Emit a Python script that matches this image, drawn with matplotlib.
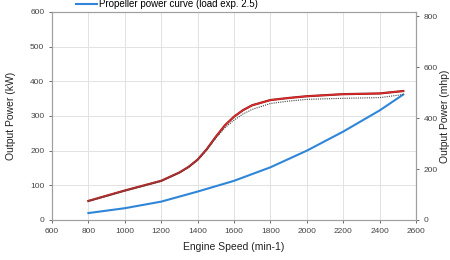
import matplotlib
matplotlib.use("Agg")
import matplotlib.pyplot as plt
import numpy as np

plt.rcParams['font.family'] = ['Liberation Sans', 'DejaVu Sans']

speed = [800, 1000, 1200, 1300, 1350, 1400, 1450, 1500, 1550, 1600, 1650, 1700, 1800, 1900, 2000, 2200, 2400, 2530]
max_power = [55, 85, 113, 137, 153, 174, 204, 240, 273, 298, 317, 331, 346, 352, 357, 363, 365, 372]
rated_power = [54, 84, 112, 136, 152, 173, 202, 236, 266, 288, 306, 319, 336, 343, 348, 351, 353, 362]
prop_speed = [800, 1000, 1200, 1400, 1600, 1800, 2000, 2200, 2400, 2530]
prop_power = [20, 34, 53, 82, 113, 152, 200, 255, 316, 362]

fig = plt.figure(figsize=(4.5, 2.6), dpi=100)
ax = fig.add_axes([52/450, 1-220/260, (416-52)/450, (220-12)/260])

grid_c = "#e2e2e2"
ax.set_xlim(600, 2600)
ax.set_ylim(0, 600)
ax.set_xticks(np.arange(600, 2601, 200))
ax.set_yticks(np.arange(0, 601, 100))
ax.grid(True, color=grid_c, linewidth=0.7)
ax.set_axisbelow(True)

ax.plot(speed, max_power, color="#8a1a1a", linewidth=1.6, zorder=3)
ax.plot(speed, max_power, color="#e02a2a", linewidth=1.0, zorder=4)
ax.plot(speed, rated_power, color="#444444", linewidth=0.8, linestyle=(0, (1, 1)), zorder=5)
line_p, = ax.plot(prop_speed, prop_power, color="#2f86d8", linewidth=1.5, zorder=4,
                  label="Propeller power curve (load exp. 2.5)")

for s in ax.spines.values():
    s.set_color("#a0a0a0")
    s.set_linewidth(0.8)
ax.tick_params(labelsize=6, colors="#555555", length=2, width=0.6)
for lbl in ax.get_xticklabels() + ax.get_yticklabels():
    lbl.set_color("#444444")

ax.set_xlabel("Engine Speed (min-1)", fontsize=7.5, color="#222222", labelpad=5)
ax.set_ylabel("Output Power (kW)", fontsize=7.5, color="#222222", labelpad=10)

ax2 = ax.twinx()
ax2.set_ylim(0, 600 * 1.3596)
ax2.set_yticks([0, 200, 400, 600, 800])
ax2.tick_params(labelsize=6, colors="#555555", length=2, width=0.6)
for lbl in ax2.get_yticklabels():
    lbl.set_color("#444444")
for s in ax2.spines.values():
    s.set_color("#a0a0a0")
    s.set_linewidth(0.8)
ax2.set_ylabel("Output Power (mhp)", fontsize=7.5, color="#222222")
ax2.yaxis.set_label_coords((440 - 52) / 364, 0.5)

leg = fig.legend(handles=[line_p], loc="center left", bbox_to_anchor=(76/450, 1-4/260),
                 frameon=False, fontsize=7, handlelength=2.2, handletextpad=0.2,
                 borderaxespad=0, borderpad=0)

fig.savefig("out.png", dpi=100)
